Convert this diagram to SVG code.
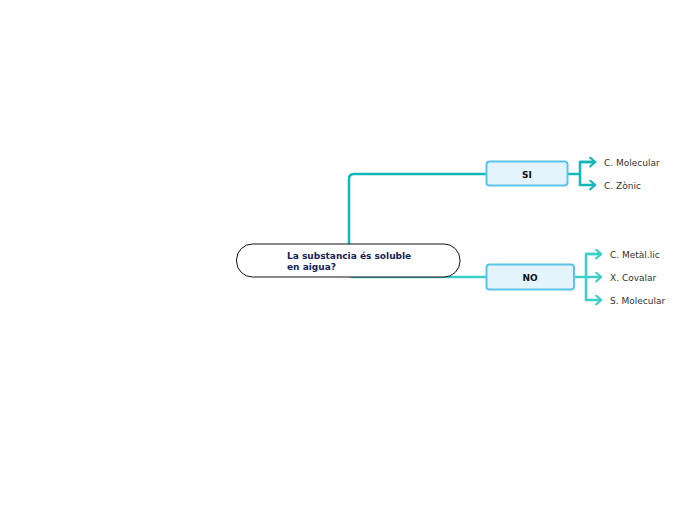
<svg xmlns="http://www.w3.org/2000/svg" width="696" height="520" viewBox="0 0 696 520">
<style>
.lbl{font-family:"DejaVu Sans",Verdana,sans-serif;font-size:9px;fill:#333}
.box{fill:#e3f4fc;stroke:#5bc4e8;stroke-width:2}
.bt{font-family:"DejaVu Sans",Verdana,sans-serif;font-size:9px;font-weight:bold;fill:#111;text-anchor:middle}
.c1{fill:none;stroke:#12b8b8;stroke-width:2.5}
.c2{fill:none;stroke:#3ccfc8;stroke-width:2.5}
</style>
<defs>
<marker id="a1" viewBox="0 0 10 10" refX="8" refY="5" markerWidth="4.4" markerHeight="4.4" orient="auto" markerUnits="strokeWidth"><path d="M3,0.5 L8,5 L3,9.5" fill="none" stroke="#12b8b8" stroke-width="2"/></marker>
<marker id="a2" viewBox="0 0 10 10" refX="8" refY="5" markerWidth="4.4" markerHeight="4.4" orient="auto" markerUnits="strokeWidth"><path d="M3,0.5 L8,5 L3,9.5" fill="none" stroke="#3ccfc8" stroke-width="2"/></marker>
</defs>
<rect width="696" height="520" fill="#fff"/>
<g id="connectors">
<path class="c1" d="M349,260 V179 Q349,174 354,174 H486"/>
<path class="c2" d="M349,260 V273 Q349,277 353,277 H486"/>
<path class="c1" d="M568,174 H580"/>
<path class="c1" d="M595,162 H580 V185 H595" marker-end="url(#a1)"/>
<path class="c1" d="M580,162 H595" marker-end="url(#a1)"/>
<path class="c2" d="M574,277 H601" marker-end="url(#a2)"/>
<path class="c2" d="M601,254 H586 V300 H601" marker-end="url(#a2)"/>
<path class="c2" d="M586,254 H601" marker-end="url(#a2)"/>
</g>
<g id="root">
<rect x="236.5" y="244" width="223.5" height="33" rx="16" fill="#fff" stroke="#111" stroke-width="1"/>
<text x="287" y="259" font-family="'DejaVu Sans',Verdana,sans-serif" font-size="9" font-weight="bold" fill="#13235a">La substancia és soluble</text>
<text x="287" y="270" font-family="'DejaVu Sans',Verdana,sans-serif" font-size="9" font-weight="bold" fill="#13235a">en aigua?</text>
</g>
<g id="si">
<rect class="box" x="486.5" y="161.5" width="81" height="24" rx="3"/>
<text class="bt" x="527" y="177.5">SI</text>
</g>
<g id="no">
<rect class="box" x="486.5" y="264.5" width="87.5" height="25" rx="3"/>
<text class="bt" x="530" y="280.5">NO</text>
</g>
<g id="si1"><text class="lbl" x="604" y="165.5">C. Molecular</text></g>
<g id="si2"><text class="lbl" x="604" y="188.5">C. Zònic</text></g>
<g id="no1"><text class="lbl" x="610" y="257.5">C. Metàl.lic</text></g>
<g id="no2"><text class="lbl" x="610" y="280.5">X. Covalar</text></g>
<g id="no3"><text class="lbl" x="610" y="303.5">S. Molecular</text></g>
</svg>
